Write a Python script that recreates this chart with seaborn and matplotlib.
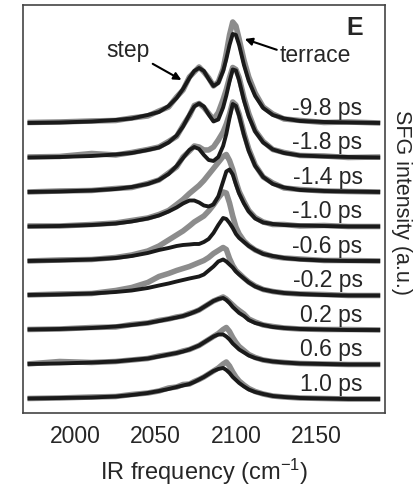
import numpy as np
import matplotlib
matplotlib.use("Agg")
import matplotlib.pyplot as plt
import seaborn as sns

freq = [1970, 1990, 2010, 2025, 2035, 2045, 2052, 2058, 2063, 2067, 2071,
        2074, 2077, 2080, 2083, 2086, 2089, 2092, 2094, 2096, 2098, 2100,
        2102, 2105, 2108, 2112, 2117, 2123, 2130, 2140, 2155, 2170, 2190]

delays = ["-9.8 ps", "-1.8 ps", "-1.4 ps", "-1.0 ps", "-0.6 ps",
          "-0.2 ps", "0.2 ps", "0.6 ps", "1.0 ps"]

# fitted spectra (black), a.u.
fit_m98 = [0, 0.5, 1.5, 3, 4.5, 8, 11, 17, 25, 34, 45, 52, 55, 52, 44, 37, 40,
           52, 64, 78, 89, 88, 78, 58, 42, 27, 15, 8, 4.5, 2, 1, 0.5, 0]
fit_m18 = [0, 0.5, 1.5, 3, 4.5, 7.5, 10, 15, 22, 31, 43, 51, 54, 51, 43, 36, 38,
           50, 62, 76, 88, 87, 77, 57, 41, 26, 15, 8, 4.5, 2, 1, 0.5, 0]
fit_m14 = [0, 0.5, 1.5, 3, 5, 8, 12, 18, 26, 34, 42, 45, 43, 37, 32, 31, 35,
           46, 58, 74, 88, 86, 76, 57, 41, 26, 15, 8, 4.5, 2, 1, 0.5, 0]
fit_m10 = [0, 0.5, 1.5, 3, 5, 8, 11, 15, 19, 23, 26, 26, 24, 21, 20, 22, 30,
           45, 55, 57, 52, 42, 33, 23, 15, 8, 4, 2.5, 1.5, 1, 0.5, 0, 0]
fit_m06 = [0, 0.5, 1.5, 3, 5, 8, 11, 13, 15, 16, 16.5, 17, 17, 19, 22, 28, 36,
           43, 42, 38, 33, 27, 23, 19, 15, 11, 7, 5, 3, 1.5, 0.5, 0, 0]
fit_m02 = [0.5, 1, 2, 3.5, 5, 7.5, 10, 12, 14, 15.5, 17, 18, 19, 21, 25, 29, 34,
           36, 34, 31, 28, 24, 21, 17, 13, 9, 6, 4, 2.5, 1.5, 0.5, 0, 0]
fit_p02 = [0.5, 1, 2, 3.5, 5, 7, 9, 11, 12.5, 14, 16, 18, 20, 23, 26, 29, 31,
           32, 30, 27, 23, 20, 17, 14, 10, 7, 5, 3, 2, 1, 0.5, 0, 0]
fit_p06 = [0.5, 1, 2, 3, 4.5, 6, 8, 10, 11.5, 13, 15, 17, 19, 22, 25, 28, 30,
           30, 28, 25, 21, 18, 15, 12, 9, 6.5, 4.5, 3, 2, 1, 0.5, 0, 0]
fit_p10 = [0.5, 1, 1.5, 2.5, 4, 6, 8, 10, 12, 13.5, 15, 17, 19.5, 22, 25, 28, 30,
           31, 29, 26, 22, 19, 16, 12.5, 9.5, 7, 5, 3, 2, 1, 0.5, 0, 0]

# measured spectra (gray), a.u.
dat_m98 = [0.5, 1, 2, 2.5, 5, 7, 12, 16, 26, 33, 46, 51, 56, 51, 45, 37, 41,
           54, 70, 88, 101, 97, 84, 63, 46, 30, 16, 9, 4, 2.5, 0.5, 1, 0]
dat_m18 = [0.5, 1, 4, 2.5, 5, 8, 10.5, 16, 21, 32, 42, 52, 54, 50, 44, 38, 45,
           58, 68, 80, 90, 88, 80, 60, 44, 27, 16, 8, 5, 2, 1.5, 0, 0.5]
dat_m14 = [0, 1, 1.5, 3.5, 4.5, 8.5, 12, 19, 25, 35, 41, 46, 45, 42, 42, 45, 52,
           60, 68, 78, 90, 87, 78, 59, 43, 27, 15, 9, 4, 2.5, 1, 0.5, 0]
dat_m10 = [0.5, 0.5, 2, 3.5, 6, 8.5, 12, 16, 22, 27, 33, 37, 41, 46, 52, 58, 64,
           70, 72, 66, 57, 45, 35, 25, 16, 9, 4.5, 2, 2, 0.5, 1, 0, 0]
dat_m06 = [0, 1, 1.5, 3.5, 6, 10, 15, 21, 26, 30, 35, 39, 42, 45, 50, 56, 63,
           69, 68, 58, 45, 34, 27, 20, 15.5, 11, 7.5, 4.5, 3, 2, 0.5, 0.5, 0]
dat_m02 = [0.5, 1.5, 2, 5, 8, 13, 19, 22, 25, 27, 29, 31, 33, 35, 38, 42, 45,
           48, 46, 37, 30, 25, 22, 17.5, 13.5, 9.5, 6, 4, 2.5, 1.5, 1, 0, 0]
dat_p02 = [0.5, 1, 2.5, 3, 5.5, 7, 9.5, 11, 13, 14, 16.5, 18, 20, 23, 26, 29, 31,
           33, 31, 28, 25, 22, 19.5, 16, 11, 8, 5, 3.5, 2, 1, 0.5, 0.5, 0]
dat_p06 = [0.5, 3, 2, 3, 4.5, 6, 8.5, 10, 11.5, 13.5, 15, 17, 19, 22, 25, 28, 31,
           35, 37, 33, 27, 22, 18, 14, 10, 7, 4.5, 3, 2, 1, 0.5, 0, 0]
dat_p10 = [0.5, 1, 2, 2.5, 4.5, 6, 8, 11, 12, 14.5, 15, 17.5, 19.5, 22, 25, 28,
           31, 35, 37, 33, 27, 22, 18, 14, 10.5, 7.5, 5, 3, 2, 1, 0.5, 0, 0]

fits = [fit_m98, fit_m18, fit_m14, fit_m10, fit_m06, fit_m02, fit_p02, fit_p06, fit_p10]
data = [dat_m98, dat_m18, dat_m14, dat_m10, dat_m06, dat_m02, dat_p02, dat_p06, dat_p10]

sns.set_style("white")
plt.rcParams["font.family"] = ["Liberation Sans", "DejaVu Sans"]
plt.rcParams["mathtext.fontset"] = "custom"
plt.rcParams["mathtext.rm"] = "Liberation Sans"
plt.rcParams["mathtext.it"] = "Liberation Sans:italic"

fig = plt.figure(figsize=(4.15, 4.88), dpi=100)
ax = fig.add_axes([0.0547, 0.1537, 0.8731, 0.8361])

step = 34.5  # vertical spacing between traces
n = len(delays)
for i in range(n):
    off = (n - 1 - i) * step
    sns.lineplot(x=freq, y=np.array(data[i]) + off, color="#8c8c8c", lw=4.0,
                 ax=ax, zorder=2, solid_capstyle="butt")
for i in range(n):
    off = (n - 1 - i) * step
    sns.lineplot(x=freq, y=np.array(fits[i]) + off, color="#1a1a1a", lw=2.8,
                 ax=ax, zorder=3, solid_capstyle="butt")
    ax.text(2179, off + 8, delays[i], ha="right", va="baseline", fontsize=16.5)

ax.text(2179, 364, "E", ha="right", va="baseline", fontsize=18, fontweight="bold")
ax.annotate("step", xy=(2066, 319), xytext=(2019, 342), fontsize=16.5,
            ha="left", va="baseline",
            arrowprops=dict(arrowstyle="-|>", color="k", lw=1.5, mutation_scale=11,
                            shrinkA=0, shrinkB=0, relpos=(1.0, 0.0)))
ax.annotate("terrace", xy=(2105.5, 360), xytext=(2127.5, 337), fontsize=16.5,
            ha="left", va="baseline",
            arrowprops=dict(arrowstyle="-|>", color="k", lw=1.5, mutation_scale=11,
                            shrinkA=0, shrinkB=0, relpos=(0.0, 0.7)))

ax.set_xlim(1967, 2193)
ax.set_ylim(-14, 394)
ax.set_xticks([2000, 2050, 2100, 2150])
ax.set_yticks([])
ax.tick_params(axis="x", direction="in", length=8, width=1.2, pad=9,
               labelsize=16.5, color="#333333")
for s in ax.spines.values():
    s.set_color("#444444")
    s.set_linewidth(1.2)
ax.set_xlabel("IR frequency (cm$^{-1}$)", fontsize=17, labelpad=6)
ax.set_ylabel("")
fig.text(0.941, 0.586, "SFG intensity (a.u.)", rotation=270, ha="left",
         va="center", fontsize=15.5)

fig.savefig("out.png", dpi=100)
